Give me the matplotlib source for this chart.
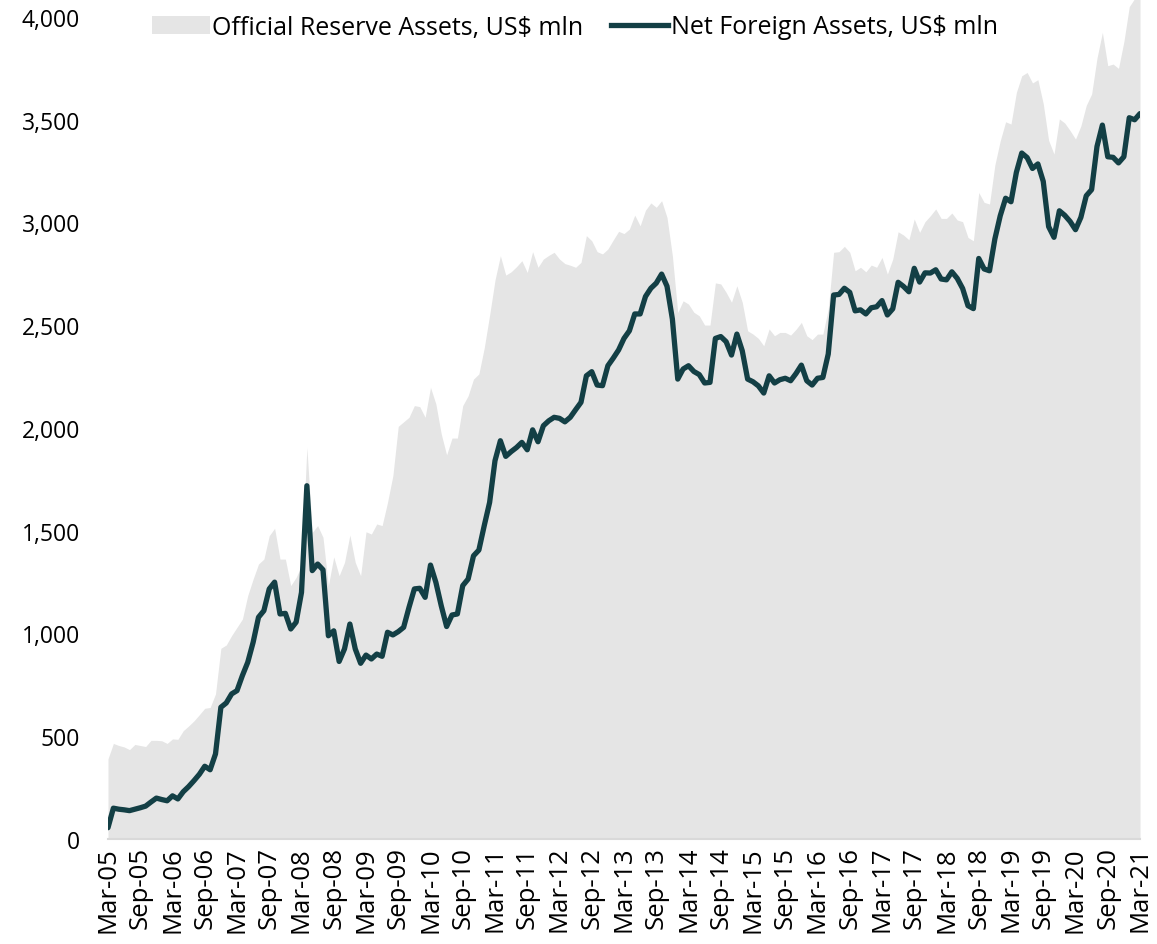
import numpy as np
import pandas as pd
import matplotlib
matplotlib.use('Agg')
import matplotlib.pyplot as plt
from matplotlib.patches import Patch
from matplotlib.lines import Line2D
from matplotlib.ticker import FuncFormatter

# ── Data (monthly, Mar-05 .. Mar-21), US$ mln ─────────────────────────────────
months = pd.date_range('2005-03-01', '2021-03-01', freq='MS')

net_foreign_assets = [
    55, 150, 145, 142, 138, 145, 152, 160, 180, 199, 192, 186,
    210, 195, 230, 255, 284, 315, 354, 337, 414, 641, 662, 706,
    722, 795, 860, 957, 1079, 1111, 1217, 1250, 1095, 1098, 1022, 1055,
    1200, 1719, 1306, 1338, 1310, 989, 1013, 864, 925, 1046, 925, 855,
    895, 876, 900, 889, 1006, 993, 1009, 1030, 1127, 1217, 1220, 1176,
    1333, 1249, 1135, 1034, 1090, 1095, 1233, 1265, 1378, 1406, 1525, 1638,
    1841, 1938, 1862, 1885, 1905, 1930, 1894, 1991, 1933, 2011, 2035, 2052,
    2047, 2030, 2052, 2089, 2125, 2254, 2274, 2209, 2206, 2303, 2340, 2380,
    2436, 2473, 2555, 2555, 2640, 2680, 2705, 2749, 2690, 2530, 2238, 2287,
    2303, 2275, 2260, 2219, 2222, 2436, 2445, 2420, 2355, 2457, 2376, 2238,
    2225, 2205, 2170, 2254, 2219, 2235, 2242, 2230, 2265, 2306, 2230, 2209,
    2242, 2246, 2360, 2647, 2650, 2680, 2660, 2570, 2575, 2555, 2585, 2590,
    2620, 2550, 2580, 2709, 2689, 2663, 2777, 2710, 2755, 2754, 2770, 2725,
    2721, 2760, 2728, 2679, 2595, 2581, 2825, 2774, 2765, 2920, 3033, 3118,
    3101, 3244, 3338, 3316, 3263, 3285, 3200, 2980, 2928, 3057, 3035, 3005,
    2965, 3025, 3130, 3160, 3370, 3474, 3320, 3317, 3290, 3320, 3510, 3500,
    3530,
]

official_reserves = [
    390, 465, 455, 448, 435, 460, 455, 450, 480, 480, 478, 465,
    487, 485, 527, 550, 575, 605, 636, 640, 706, 928, 944, 990,
    1030, 1070, 1185, 1265, 1338, 1362, 1476, 1512, 1362, 1362, 1233, 1273,
    1330, 1906, 1492, 1525, 1468, 1233, 1373, 1281, 1346, 1479, 1346, 1281,
    1495, 1484, 1533, 1525, 1638, 1768, 2008, 2030, 2052, 2109, 2104, 2052,
    2198, 2117, 1971, 1869, 1951, 1951, 2109, 2157, 2238, 2263, 2390, 2550,
    2720, 2838, 2744, 2760, 2785, 2814, 2757, 2858, 2782, 2822, 2840, 2855,
    2822, 2800, 2792, 2782, 2806, 2936, 2911, 2858, 2847, 2871, 2915, 2957,
    2946, 2968, 3036, 2984, 3060, 3095, 3074, 3106, 3025, 2838, 2562, 2619,
    2603, 2563, 2546, 2501, 2501, 2706, 2701, 2660, 2612, 2692, 2612, 2473,
    2457, 2436, 2400, 2482, 2449, 2465, 2465, 2452, 2480, 2514, 2449, 2430,
    2457, 2457, 2579, 2855, 2858, 2884, 2855, 2765, 2782, 2760, 2793, 2782,
    2830, 2749, 2822, 2955, 2939, 2916, 3017, 2952, 3004, 3033, 3066, 3020,
    3020, 3046, 3012, 3004, 2927, 2911, 3146, 3098, 3090, 3280, 3398, 3490,
    3479, 3633, 3714, 3730, 3679, 3695, 3578, 3400, 3333, 3504, 3484, 3447,
    3406, 3470, 3570, 3625, 3800, 3925, 3763, 3771, 3750, 3880, 4050, 4090,
    4130,
]

y_ticks = [0, 500, 1000, 1500, 2000, 2500, 3000, 3500, 4000]

area_color = '#e5e5e5'
line_color = '#133f45'

plt.rcParams['font.family'] = ['Open Sans', 'DejaVu Sans']

W, H = 1157, 945
fig = plt.figure(figsize=(W / 100, H / 100), dpi=100)
ax = fig.add_axes([108 / W, 1 - 840 / H, (1140 - 108) / W, 840 / H])

x = np.arange(len(months))
ax.fill_between(x, official_reserves, 0, color=area_color, lw=0)
ax.plot(x, net_foreign_assets, color=line_color, lw=3.8,
        solid_joinstyle='round', solid_capstyle='round')

ax.set_xlim(0, len(months) - 1)
ax.set_ylim(0, 4000 + 18 * 4000 / 822)

tick_idx = x[::6]
ax.set_xticks(tick_idx)
ax.set_xticklabels([months[i].strftime('%b-%y') for i in tick_idx],
                   rotation=90, fontsize=18.5)
ax.set_yticks(y_ticks)
ax.yaxis.set_major_formatter(FuncFormatter(lambda v, p: f'{int(v):,}'))
ax.tick_params(axis='y', length=0, pad=20, labelsize=16.5)
ax.tick_params(axis='x', length=0, pad=5)

for side in ['top', 'right', 'left']:
    ax.spines[side].set_visible(False)
ax.spines['bottom'].set_color('#d9d9d9')
ax.spines['bottom'].set_linewidth(1.5)

handles = [Patch(facecolor=area_color, edgecolor='none'),
           Line2D([0], [0], color=line_color, lw=3.8)]
labels = ['Official Reserve Assets, US$ mln', 'Net Foreign Assets, US$ mln']
ax.legend(handles, labels, loc='center', ncol=2, frameon=False,
          bbox_to_anchor=(575 / W, 1 - 28 / H), bbox_transform=fig.transFigure,
          fontsize=18, handlelength=2.3, handletextpad=0.1, columnspacing=1.1)

fig.savefig('out.png', dpi=100)
